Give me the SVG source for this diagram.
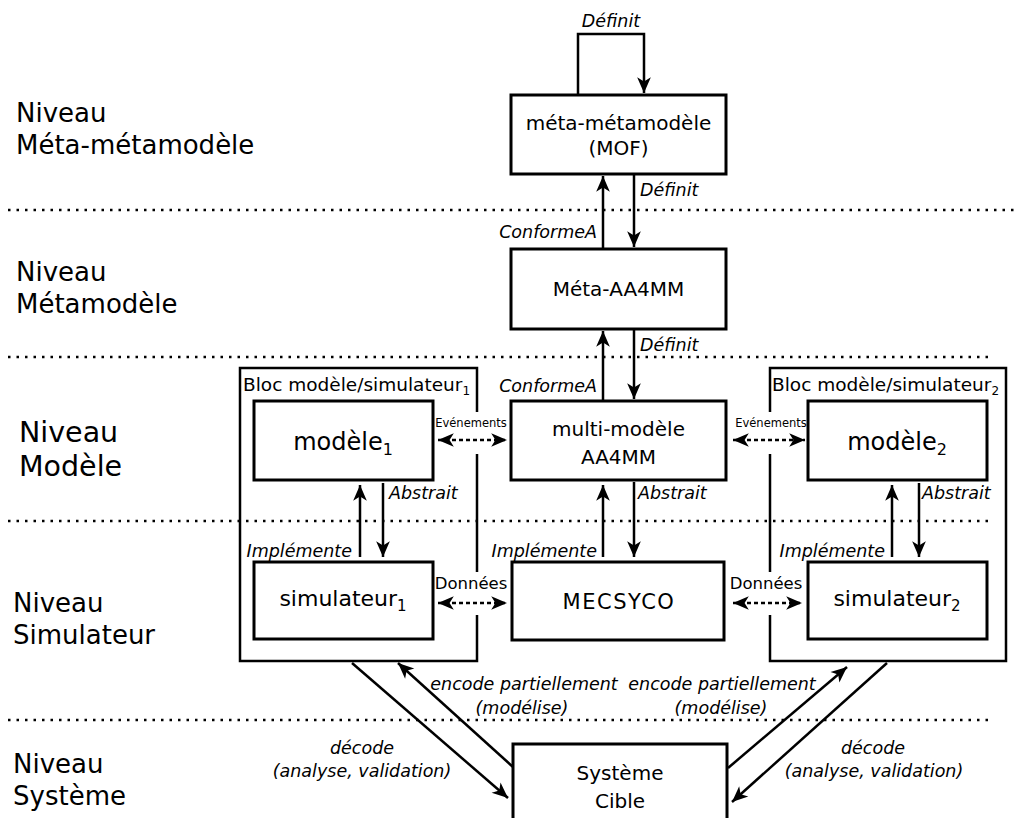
<svg xmlns="http://www.w3.org/2000/svg" width="1019" height="818" viewBox="0 0 1019 818">
<style>
text{font-family:"DejaVu Sans","Liberation Sans",sans-serif;fill:#000}
.lvl{font-size:26px}
.lvl2{font-size:28.5px}
.box{fill:#fff;stroke:#000;stroke-width:3}
.blk{fill:none;stroke:#000;stroke-width:2.5}
.bt{font-size:20px;text-anchor:middle}
.lbl{font-size:17.5px;font-style:italic}
.small{font-size:11.5px;text-anchor:middle}
.dat{font-size:16.5px;text-anchor:middle}
.dot{stroke:#000;stroke-width:2.5;stroke-dasharray:2.5 6;fill:none}
.ar{stroke:#000;stroke-width:2.5;fill:none;marker-end:url(#ah)}
.da{stroke:#000;stroke-width:2.5;fill:none;stroke-dasharray:4 3;marker-end:url(#ah);marker-start:url(#ahs)}
</style>
<defs>
<marker id="ah" markerUnits="userSpaceOnUse" markerWidth="20" markerHeight="20" viewBox="-17 -9 19 18" refX="0" refY="0" orient="auto">
<path d="M0,0 L-15,-6.5 L-11,0 L-15,6.5 Z" fill="#000"/>
</marker>
<marker id="ahs" markerUnits="userSpaceOnUse" markerWidth="20" markerHeight="20" viewBox="-17 -9 19 18" refX="0" refY="0" orient="auto-start-reverse">
<path d="M0,0 L-15,-6.5 L-11,0 L-15,6.5 Z" fill="#000"/>
</marker>
</defs>

<g id="levels">
<text class="lvl" x="16" y="122">Niveau</text>
<text class="lvl" x="16" y="154">Méta-métamodèle</text>
<text class="lvl" x="16" y="281">Niveau</text>
<text class="lvl" x="16" y="313">Métamodèle</text>
<text class="lvl2" x="19" y="442">Niveau</text>
<text class="lvl2" x="19" y="476">Modèle</text>
<text class="lvl" x="13" y="612">Niveau</text>
<text class="lvl" x="13" y="644">Simulateur</text>
<text class="lvl" x="13" y="773">Niveau</text>
<text class="lvl" x="13" y="805">Système</text>
</g>

<g id="separators">
<line class="dot" x1="8" y1="210" x2="1019" y2="210"/>
<line class="dot" x1="8" y1="357" x2="990" y2="357"/>
<line class="dot" x1="8" y1="521" x2="992" y2="521"/>
<line class="dot" x1="8" y1="720" x2="990" y2="720"/>
</g>

<g id="bloc1">
<path class="blk" d="M477,412 V368 H240 V661 H477 V615 M477,572 V454"/>
<text x="243" y="391" font-size="18.5">Bloc modèle/simulateur<tspan font-size="12" dy="4">1</tspan></text>
</g>
<g id="bloc2">
<path class="blk" d="M770,412 V368 H1006 V661 H770 V615 M770,572 V454"/>
<text x="772" y="391" font-size="18.5">Bloc modèle/simulateur<tspan font-size="12" dy="4">2</tspan></text>
</g>

<g id="mof">
<rect class="box" x="511" y="95" width="215" height="79"/>
<text class="bt" x="618.5" y="130">méta-métamodèle</text>
<text class="bt" x="618.5" y="155">(MOF)</text>
</g>
<g id="meta-aa4mm">
<rect class="box" x="511" y="249" width="215" height="80"/>
<text class="bt" x="618.5" y="296">Méta-AA4MM</text>
</g>
<g id="multi-modele">
<rect class="box" x="511" y="401" width="215" height="79"/>
<text class="bt" x="618.5" y="436">multi-modèle</text>
<text class="bt" x="618.5" y="464">AA4MM</text>
</g>
<g id="mecsyco">
<rect class="box" x="512" y="562" width="212" height="78"/>
<text x="619" y="609" font-size="21" text-anchor="middle" letter-spacing="1.5">MECSYCO</text>
</g>
<g id="modele1">
<rect class="box" x="254" y="401" width="179" height="79"/>
<text x="343" y="450" font-size="24" text-anchor="middle">modèle<tspan font-size="16" dy="5">1</tspan></text>
</g>
<g id="simulateur1">
<rect class="box" x="254" y="562" width="179" height="77"/>
<text x="343" y="606" font-size="22" text-anchor="middle">simulateur<tspan font-size="15" dy="5">1</tspan></text>
</g>
<g id="modele2">
<rect class="box" x="808" y="401" width="179" height="79"/>
<text x="897" y="450" font-size="24" text-anchor="middle">modèle<tspan font-size="16" dy="5">2</tspan></text>
</g>
<g id="simulateur2">
<rect class="box" x="808" y="562" width="179" height="77"/>
<text x="897" y="606" font-size="22" text-anchor="middle">simulateur<tspan font-size="15" dy="5">2</tspan></text>
</g>
<g id="systeme-cible">
<rect class="box" x="513" y="744" width="214" height="90"/>
<text class="bt" x="620" y="780">Système</text>
<text class="bt" x="620" y="808">Cible</text>
</g>

<g id="connectors">
<path class="ar" d="M578,95 V34 H644 V93"/>
<line class="ar" x1="603" y1="249" x2="603" y2="176"/>
<line class="ar" x1="634" y1="174" x2="634" y2="247"/>
<line class="ar" x1="603" y1="401" x2="603" y2="331"/>
<line class="ar" x1="634" y1="329" x2="634" y2="399"/>
<line class="ar" x1="603" y1="557" x2="603" y2="485"/>
<line class="ar" x1="634" y1="482" x2="634" y2="557"/>
<line class="ar" x1="360" y1="557" x2="360" y2="485"/>
<line class="ar" x1="383" y1="483" x2="383" y2="557"/>
<line class="ar" x1="892" y1="557" x2="892" y2="485"/>
<line class="ar" x1="919" y1="483" x2="919" y2="557"/>
<line class="da" x1="438" y1="440" x2="507" y2="440"/>
<line class="da" x1="733" y1="440" x2="805" y2="440"/>
<line class="da" x1="438" y1="603" x2="507" y2="603"/>
<line class="da" x1="733" y1="603" x2="802" y2="603"/>
<line class="ar" x1="352" y1="663" x2="508" y2="798"/>
<line class="ar" x1="513" y1="767" x2="398" y2="663"/>
<line class="ar" x1="728" y1="768" x2="847" y2="667"/>
<line class="ar" x1="887" y1="663" x2="732" y2="802"/>
</g>

<g id="labels">
<text class="lbl" x="611" y="27" text-anchor="middle">Définit</text>
<text class="lbl" x="640" y="196">Définit</text>
<text class="lbl" x="597" y="238" text-anchor="end">ConformeA</text>
<text class="lbl" x="640" y="351">Définit</text>
<text class="lbl" x="597" y="392" text-anchor="end">ConformeA</text>
<text class="lbl" x="389" y="499">Abstrait</text>
<text class="lbl" x="638" y="499">Abstrait</text>
<text class="lbl" x="922" y="499">Abstrait</text>
<text class="lbl" x="352" y="557" text-anchor="end">Implémente</text>
<text class="lbl" x="597" y="557" text-anchor="end">Implémente</text>
<text class="lbl" x="885" y="557" text-anchor="end">Implémente</text>
<text class="small" x="471" y="427">Evénements</text>
<text class="small" x="771" y="427">Evénements</text>
<text class="dat" x="471" y="589">Données</text>
<text class="dat" x="766" y="589">Données</text>
<text class="lbl" x="524" y="690" text-anchor="middle">encode partiellement</text>
<text class="lbl" x="522" y="714" text-anchor="middle">(modélise)</text>
<text class="lbl" x="722" y="690" text-anchor="middle">encode partiellement</text>
<text class="lbl" x="721" y="714" text-anchor="middle">(modélise)</text>
<text class="lbl" x="362" y="754" text-anchor="middle">décode</text>
<text class="lbl" x="362" y="777" text-anchor="middle">(analyse, validation)</text>
<text class="lbl" x="873" y="754" text-anchor="middle">décode</text>
<text class="lbl" x="874" y="777" text-anchor="middle">(analyse, validation)</text>
</g>
</svg>
